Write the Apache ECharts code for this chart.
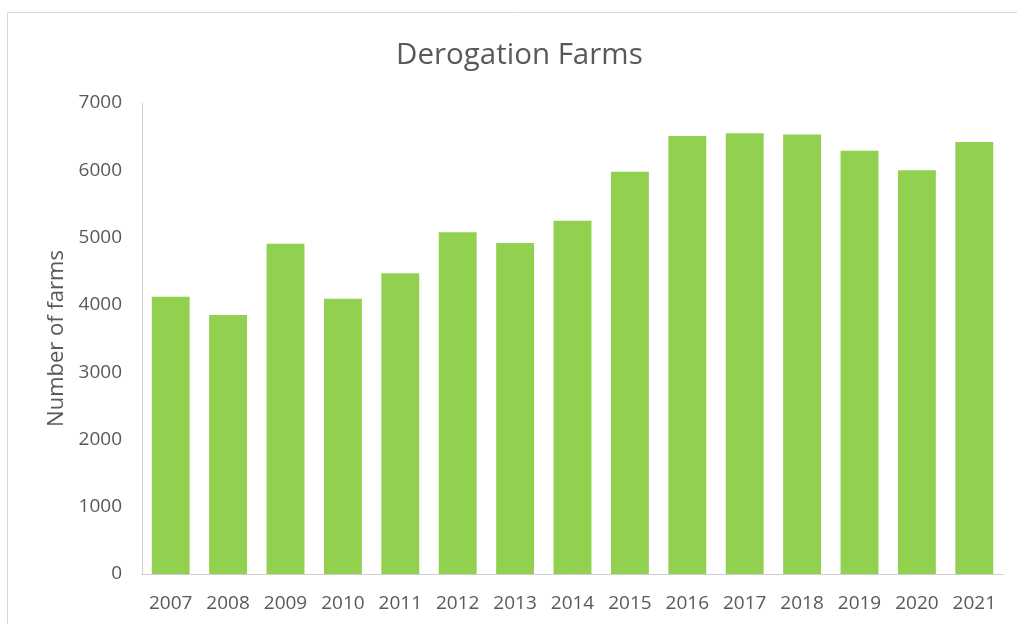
<!DOCTYPE html>
<html>
<head>
<meta charset="utf-8">
<style>
  html, body { margin: 0; padding: 0; background: #ffffff; }
  #chart { width: 1017px; height: 624px; }
</style>
<script src="https://cdn.jsdelivr.net/npm/echarts@6/dist/echarts.min.js"></script>
</head>
<body>
<div id="chart"></div>
<script>
// Number of derogation farms per year
const years = ['2007', '2008', '2009', '2010', '2011', '2012', '2013', '2014',
               '2015', '2016', '2017', '2018', '2019', '2020', '2021'];
const farms = [4120, 3850, 4910, 4090, 4470, 5080, 4920, 5250,
               5980, 6510, 6550, 6530, 6290, 6000, 6420];

const chart = echarts.init(document.getElementById('chart'), null, { renderer: 'canvas' });
const font = '"Open Sans", sans-serif';

chart.setOption({
  animation: false,
  backgroundColor: '#ffffff',
  graphic: [{
    type: 'rect',
    silent: true,
    shape: { x: 7.5, y: 12.5, width: 1030, height: 640 },
    style: { fill: 'none', stroke: '#d9d9d9', lineWidth: 1 }
  }],
  title: {
    text: 'Derogation Farms',
    left: 391,
    top: 36,
    textStyle: { fontFamily: font, fontSize: 29.5, fontWeight: 'normal', color: '#595959' }
  },
  grid: { left: 142, right: 14, top: 103, bottom: 50 },
  xAxis: {
    type: 'category',
    data: years,
    axisLine: { show: true, lineStyle: { color: '#d0d0d0', width: 1 } },
    axisTick: { show: false },
    axisLabel: { color: '#595959', fontFamily: font, fontSize: 19, margin: 20 }
  },
  yAxis: {
    type: 'value',
    min: 0,
    max: 7000,
    interval: 1000,
    name: 'Number of farms',
    nameLocation: 'middle',
    nameGap: 74,
    nameTextStyle: { color: '#595959', fontFamily: font, fontSize: 22 },
    axisLine: { show: true, lineStyle: { color: '#d0d0d0', width: 1 } },
    axisTick: { show: false },
    splitLine: { show: false },
    axisLabel: {
      color: '#595959', fontFamily: font, fontSize: 19, margin: 20,
      formatter: (v) => String(v)
    }
  },
  series: [{
    type: 'bar',
    data: farms,
    barCategoryGap: '34%',
    itemStyle: { color: '#92d050' }
  }]
});
</script>
</body>
</html>
